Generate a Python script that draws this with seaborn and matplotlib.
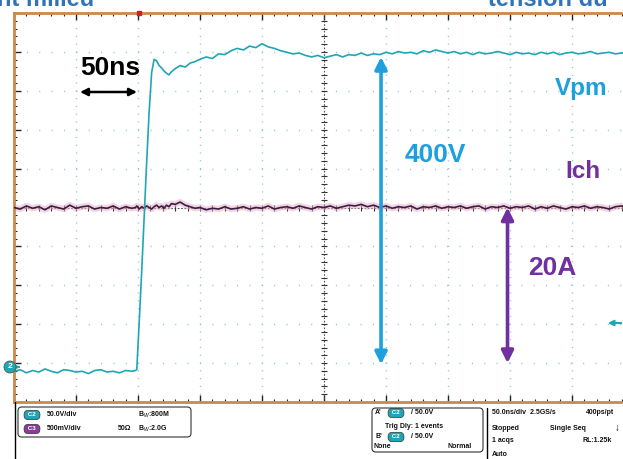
import numpy as np
import pandas as pd
import matplotlib
matplotlib.use("Agg")
import matplotlib.pyplot as plt
import seaborn as sns
from matplotlib.patches import FancyBboxPatch
from matplotlib.lines import Line2D
from matplotlib.ticker import MultipleLocator

# scope capture: 50 ns/div, trigger at screen centre
t_ns = [-250, -245, -240, -235, -230, -225, -220, -215, -210, -205,
        -200, -195, -190, -185, -180, -175, -170, -165, -160, -155,
        -152, -151, -149, -147, -145, -143, -141, -139, -137, -135,
        -133, -131, -129, -127, -125, -123, -120, -116, -112, -108, -104,
        -100, -95, -90, -85, -80, -75, -70, -65, -60, -55,
        -50, -45, -40, -35, -30, -25, -20, -15, -10, -5,
        0, 5, 10, 15, 20, 25, 30, 35, 40, 45,
        50, 55, 60, 65, 70, 75, 80, 85, 90, 95,
        100, 105, 110, 115, 120, 125, 130, 135, 140, 145,
        150, 155, 160, 165, 170, 175, 180, 185, 190, 195,
        200, 205, 210, 215, 220, 225, 230, 235, 240, 245]

vpm_V = [-4, -2, -6, -3, -5, -1, -4, -6, -2, -3,
         -5, -4, -7, -3, -2, -5, -4, -6, -3, -4,
         -3, -2, 60, 125, 195, 265, 330, 380, 397, 395,
         389, 386, 382, 379, 377, 381, 385, 389, 387, 392, 394,
         397, 400, 398, 404, 403, 408, 411, 409, 414, 412,
         417, 413, 411, 408, 406, 404, 405, 402, 400, 402,
         399, 401, 403, 400, 403, 402, 405, 402, 404, 403,
         406, 404, 407, 405, 406, 404, 408, 406, 409, 407,
         405, 407, 404, 406, 403, 406, 404, 405, 407, 405,
         403, 406, 404, 405, 403, 406, 404, 406, 403, 405,
         406, 404, 405, 407, 404, 405, 406, 404, 405, 406]

ich_A = [20.0, 19.8, 20.2, 19.9, 20.1, 19.7, 20.2, 20.0, 19.8, 20.3,
         19.9, 20.1, 20.2, 19.8, 20.0, 19.9, 20.2, 19.8, 20.1, 19.9,
         20.0, 20.2, 19.8, 20.1, 19.9, 20.2, 20.0, 19.8, 20.1, 20.3,
         20.0, 20.2, 19.9, 20.3, 20.1, 20.5, 20.4, 20.7, 20.3, 20.1, 19.9,
         20.0, 19.7, 19.9, 19.8, 20.1, 19.8, 19.9, 20.1, 19.8, 20.0,
         19.9, 20.2, 19.8, 20.0, 20.1, 19.9, 20.2, 20.0, 19.8, 20.1,
         20.0, 20.2, 19.9, 20.1, 20.3, 20.2, 20.4, 20.1, 20.3, 20.0,
         20.2, 19.9, 20.1, 20.0, 20.2, 19.8, 20.1, 20.0, 20.2, 19.9,
         20.1, 20.0, 20.2, 19.9, 20.1, 20.2, 19.8, 20.1, 20.0, 20.2,
         19.9, 20.1, 20.0, 20.2, 19.8, 20.1, 19.9, 20.2, 20.0, 19.8,
         20.1, 20.0, 20.2, 19.9, 20.1, 20.0, 19.8, 20.1, 20.2, 19.9]

# vertical scaling / offsets in divisions
V_PER_DIV = 50.0
A_PER_DIV = 5.0
VPM_OFFSET = -4.13
ICH_OFFSET = -4.0

TEAL = "#1fa6b4"
BLUE = "#1ea0dc"
PURPLE = "#7030a0"
TITLE_BLUE = "#2f73b8"
BORDER = "#c98a4b"

W, H = 623, 459


def fp(x, y):
    # pixel (from top-left) -> figure fraction
    return x / W, 1 - y / H


df = pd.DataFrame({"t": t_ns,
                   "vpm": np.array(vpm_V) / V_PER_DIV + VPM_OFFSET,
                   "ich": np.array(ich_A) / A_PER_DIV + ICH_OFFSET})

sns.set_style("white")
plt.rcParams["font.family"] = ["Liberation Sans", "DejaVu Sans"]

fig = plt.figure(figsize=(W / 100, H / 100), dpi=100)
ax = fig.add_axes([14 / W, 1 - 402 / H, 620 / W, 389 / H])
ax.set_xlim(-250, 250)
ax.set_ylim(-5, 5)

# graticule
for x in [-200, -150, -100, -50, 50, 100, 150, 200]:
    ax.axvline(x, color="#8cc4d8", lw=1.0, ls=(0, (0.8, 4.8)), zorder=1)
for y in [-4, -3, -2, -1, 1, 2, 3, 4]:
    ax.axhline(y, color="#8cc4d8", lw=1.0, ls=(0, (0.8, 8.1)), zorder=1)
ax.axvline(0, color="#555555", lw=0.8, ls=(0, (1.5, 1.5)), zorder=1)
ax.axhline(0, color="#555555", lw=0.8, ls=(0, (1.5, 1.5)), zorder=1)
ax.plot(np.zeros(51), np.arange(-5, 5.01, 0.2), ls="none", marker="_",
        ms=4, mew=0.8, color="#333333", zorder=1)
ax.plot(np.arange(-250, 250.1, 10), np.zeros(51), ls="none", marker="|",
        ms=4, mew=0.8, color="#333333", zorder=1)

for s in ax.spines.values():
    s.set_color(BORDER)
    s.set_linewidth(2)
ax.xaxis.set_major_locator(MultipleLocator(50))
ax.xaxis.set_minor_locator(MultipleLocator(10))
ax.yaxis.set_major_locator(MultipleLocator(1))
ax.yaxis.set_minor_locator(MultipleLocator(0.2))
ax.tick_params(which="both", direction="in", top=True, right=True,
               bottom=True, left=True, labelbottom=False, labelleft=False,
               color="#222222")
ax.tick_params(which="major", length=5, width=1)
ax.tick_params(which="minor", length=2.5, width=0.8)
ax.set_xlabel("")
ax.set_ylabel("")

# traces
sns.lineplot(data=df, x="t", y="ich", ax=ax, color="#e9b3c9", lw=4.5,
             alpha=0.55, sort=False, estimator=None, zorder=2)
sns.lineplot(data=df, x="t", y="ich", ax=ax, color="#3b1d45", lw=1.2,
             sort=False, estimator=None, zorder=3)
sns.lineplot(data=df, x="t", y="vpm", ax=ax, color=TEAL, lw=1.2,
             sort=False, estimator=None, zorder=4)

# trigger position marker on the top edge
ax.plot([-149], [5], marker="s", ms=3, color="#d02020", clip_on=False, zorder=6)

# amplitude arrows
ax.annotate("", xy=(46, 400 / V_PER_DIV + VPM_OFFSET),
            xytext=(46, 5 / V_PER_DIV + VPM_OFFSET),
            arrowprops=dict(arrowstyle="<|-|>", color=BLUE, lw=2.6,
                            mutation_scale=18, shrinkA=0, shrinkB=0), zorder=5)
ax.annotate("", xy=(148, 20 / A_PER_DIV + ICH_OFFSET),
            xytext=(148, 0 / A_PER_DIV + ICH_OFFSET),
            arrowprops=dict(arrowstyle="<|-|>", color=PURPLE, lw=2.6,
                            mutation_scale=18, shrinkA=0, shrinkB=0), zorder=5)
ax.annotate("", xy=fp(80, 92), xytext=fp(137, 92), xycoords="figure fraction",
            textcoords="figure fraction",
            arrowprops=dict(arrowstyle="<|-|>", color="black", lw=1.8,
                            mutation_scale=11, shrinkA=0, shrinkB=0))

big = dict(fontweight="bold", va="center", ha="left")
fig.text(*fp(80, 68), "50ns", color="black", fontsize=19, **big)
fig.text(*fp(555, 88), "Vpm", color=BLUE, fontsize=17.5, **big)
fig.text(*fp(405, 155), "400V", color=BLUE, fontsize=19, **big)
fig.text(*fp(565, 172), "Ich", color=PURPLE, fontsize=17.5, **big)
fig.text(*fp(528, 268), "20A", color=PURPLE, fontsize=19, **big)
fig.text(*fp(-3, 6), "nt milieu", color=TITLE_BLUE, fontsize=17,
         fontweight="bold", ha="left", va="baseline")
fig.text(*fp(488, 6), "tension du", color=TITLE_BLUE, fontsize=17,
         fontweight="bold", ha="left", va="baseline")

# channel ground marker and trigger level marker
fig.text(*fp(10, 367), "2", color="white", fontsize=6, fontweight="bold",
         ha="center", va="center",
         bbox=dict(boxstyle="circle,pad=0.3", fc=TEAL, ec="#555555", lw=0.6))
ax.annotate("", xy=fp(23, 367), xytext=fp(16, 367), xycoords="figure fraction",
            textcoords="figure fraction",
            arrowprops=dict(arrowstyle="-|>", color=TEAL, lw=1, mutation_scale=6))
ax.annotate("", xy=fp(605, 323), xytext=fp(624, 323), xycoords="figure fraction",
            textcoords="figure fraction",
            arrowprops=dict(arrowstyle="-|>", color=TEAL, lw=1.5, mutation_scale=8))

# status panel below the screen
fig.add_artist(Line2D([15 / W, 15 / W], [0, 1 - 402 / H], color="black", lw=1))
fig.add_artist(Line2D([487 / W, 487 / W], [0, 1 - 408 / H], color="black", lw=1))


def box(x0, y0, x1, y1):
    fig.add_artist(FancyBboxPatch(fp(x0, y1), (x1 - x0) / W, (y1 - y0) / H,
                                  boxstyle="round,pad=0,rounding_size=0.006",
                                  mutation_aspect=W / H, fc="white",
                                  ec="#333333", lw=0.8,
                                  transform=fig.transFigure))


box(18, 407, 191, 437)
box(372, 408, 483, 452)

small = dict(fontsize=5, fontweight="bold", va="center", color="#111111")


def badge(x, y, label, col):
    fig.text(*fp(x, y), label, fontsize=4.5, fontweight="bold", color="white",
             ha="center", va="center",
             bbox=dict(boxstyle="round,pad=0.35,rounding_size=0.7", fc=col,
                       ec="#333333", lw=0.5))


badge(32, 415, " C2 ", TEAL)
fig.text(*fp(47, 415), "50.0V/div", ha="left", **small)
fig.text(*fp(138, 415), "B$_W$:800M", ha="left", **small)
badge(32, 429, " C3 ", "#8a3b9c")
fig.text(*fp(47, 429), "500mV/div", ha="left", **small)
fig.text(*fp(118, 429), "50Ω", ha="left", **small)
fig.text(*fp(138, 429), "B$_W$:2.0G", ha="left", **small)

fig.text(*fp(375, 413), "A'", ha="left", **small)
badge(396, 413, " C2 ", TEAL)
fig.text(*fp(411, 413), "/ 50.0V", ha="left", **small)
fig.text(*fp(385, 426), "Trig Dly: 1 events", ha="left", **small)
fig.text(*fp(375, 437), "B'", ha="left", **small)
badge(396, 437, " C2 ", TEAL)
fig.text(*fp(411, 437), "/ 50.0V", ha="left", **small)
fig.text(*fp(374, 447), "None", ha="left", **small)
fig.text(*fp(472, 447), "Normal", ha="right", **small)

fig.text(*fp(492, 413), "50.0ns/div  2.5GS/s", ha="left", **small)
fig.text(*fp(614, 413), "400ps/pt", ha="right", **small)
fig.text(*fp(492, 428), "Stopped", ha="left", **small)
fig.text(*fp(550, 428), "Single Seq", ha="left", **small)
fig.text(*fp(617, 428), "↓", ha="center", fontsize=7, fontweight="bold",
         va="center", color="#111111")
fig.text(*fp(492, 441), "1 acqs", ha="left", **small)
fig.text(*fp(612, 441), "RL:1.25k", ha="right", **small)
fig.text(*fp(492, 455), "Auto", ha="left", **small)

fig.savefig("out.png", dpi=100)
